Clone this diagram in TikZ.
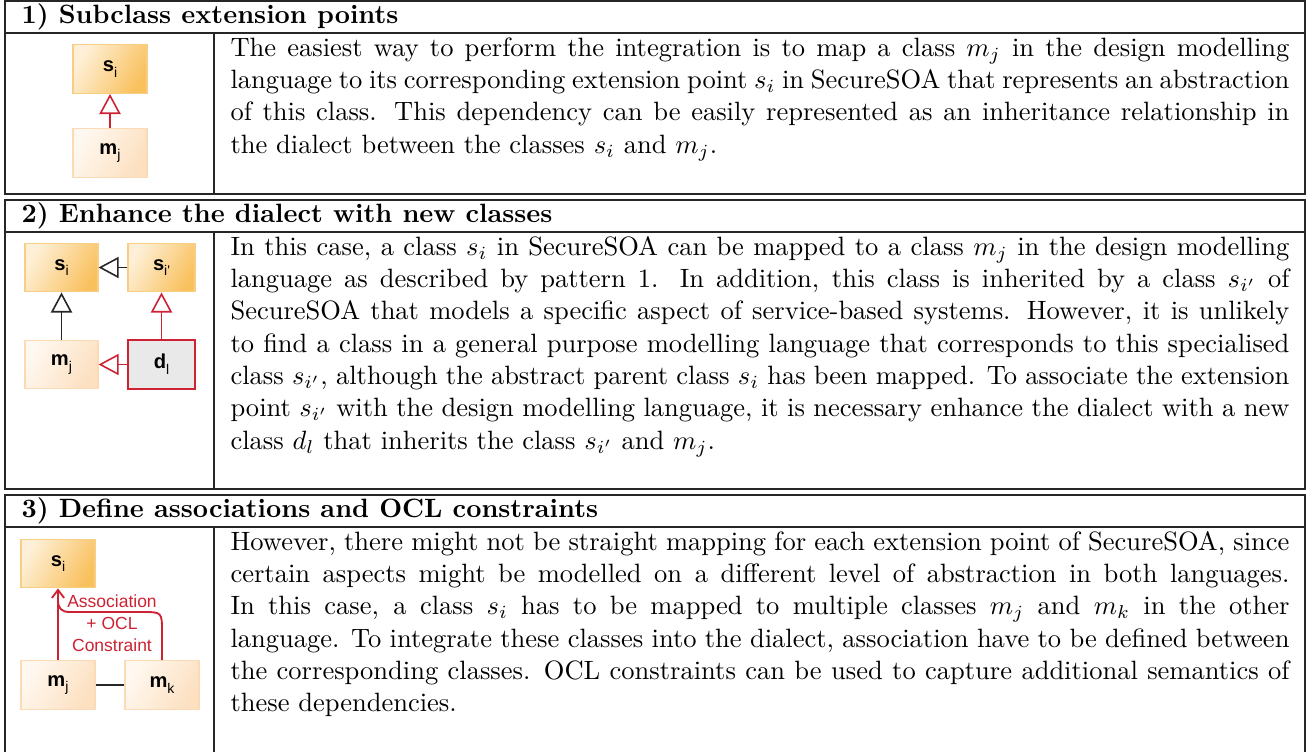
\documentclass[tikz,border=0pt]{standalone}
\usepackage{fontspec}
\newfontfamily\diag{Liberation Sans}
\usetikzlibrary{arrows.meta}
\definecolor{sdark}{HTML}{F9C15E}
\definecolor{slight}{HTML}{FEF0D8}
\definecolor{sborder}{HTML}{F8CD84}
\definecolor{mdark}{HTML}{FCE0C0}
\definecolor{mlight}{HTML}{FFF8F0}
\definecolor{mborder}{HTML}{FBDAB5}
\definecolor{ared}{HTML}{CC2233}
\definecolor{dfill}{HTML}{E9E9E9}
\newcommand{\lbl}[2]{#1\raisebox{-0.28em}{\fontsize{5.3}{6}\selectfont\mdseries #2}}
\begin{document}
\begin{tikzpicture}[x=0.37736pt,y=-0.37736pt,
  tbl/.style={line width=0.45pt, draw=black!85},
  hdr/.style={inner sep=0, font=\fontsize{10}{12}\selectfont\bfseries},
  body/.style={inner sep=0, text width=399.6pt, align=justify, font=\fontsize{10}{12.2}\selectfont},
  cls/.style={inner sep=0, minimum height=18.3pt, font=\diag\bfseries\fontsize{7.6}{9}\selectfont},
  sbox/.style={cls, draw=sborder, line width=0.5pt, left color=slight, right color=sdark, shading angle=60},
  mbox/.style={cls, draw=mborder, line width=0.5pt, left color=mlight, right color=mdark, shading angle=60},
  dbox/.style={cls, draw=ared, line width=0.8pt, fill=dfill},
  inh/.style={line width=0.6pt, -{Triangle[open, length=7.6pt, width=8pt]}},
  assoc/.style={line width=0.7pt, draw=ared},
]
\useasboundingbox (0,0) rectangle (1307,752);
% ---- table 1
\draw[tbl] (5,1) rectangle (1305,194);
\draw[tbl] (5,33) -- (1305,33);
\draw[tbl] (214,33) -- (214,194);
\node[hdr, anchor=base west] (h1) at (21,23) {1) Subclass extension points};
\node[body, anchor=north west] (t1) at (230,33) {\strut The easiest way to perform the integration is to map a class $m_j$ in the design modelling\linebreak
language to its corresponding extension point $s_i$ in SecureSOA that represents an abstraction\linebreak
of this class. This dependency can be easily represented as an inheritance relationship in\linebreak
the dialect between the classes $s_i$ and $m_j$.};
\node[sbox, minimum width=27.9pt] (s1) at (110,69) {\lbl{s}{i}};
\node[mbox, minimum width=27.9pt] (m1) at (110,153) {\lbl{m}{j}};
\draw[inh, ared] (m1) -- (s1);
% ---- table 2
\draw[tbl] (5,200) rectangle (1305,489);
\draw[tbl] (5,232) -- (1305,232);
\draw[tbl] (214,232) -- (214,489);
\node[hdr, anchor=base west] (h2) at (21,222) {2) Enhance the dialect with new classes};
\node[body, anchor=north west] (t2) at (230,232) {\strut In this case, a class $s_i$ in SecureSOA can be mapped to a class $m_j$ in the design modelling\linebreak
language as described by pattern 1. In addition, this class is inherited by a class $s_{i'}$ of\linebreak
SecureSOA that models a specific aspect of service-based systems. However, it is unlikely\linebreak
to find a class in a general purpose modelling language that corresponds to this specialised\linebreak
class $s_{i'}$, although the abstract parent class $s_i$ has been mapped. To associate the extension\linebreak
point $s_{i'}$ with the design modelling language, it is necessary enhance the dialect with a new\linebreak
class $d_l$ that inherits the class $s_{i'}$ and $m_j$.};
\node[sbox, minimum width=27.5pt] (s2) at (61.5,267.5) {\lbl{s}{i}};
\node[sbox, minimum width=25.3pt] (sp2) at (161.5,267.5) {\lbl{s}{i'}};
\node[mbox, minimum width=27.5pt] (m2) at (61.5,364.5) {\lbl{m}{j}};
\node[dbox, minimum width=25.3pt] (d2) at (161.5,364.5) {\lbl{d}{l}};
\draw[inh, black!85] (sp2) -- (s2);
\draw[inh, black!85] (m2) -- (s2);
\draw[inh, ared] (d2) -- (sp2);
\draw[inh, ared] (d2) -- (m2);
% ---- table 3
\draw[tbl] (5,752) -- (5,495) -- (1305,495) -- (1305,752);
\draw[tbl] (5,527) -- (1305,527);
\draw[tbl] (214,527) -- (214,752);
\node[hdr, anchor=base west] (h3) at (21,517) {3) Define associations and OCL constraints};
\node[body, anchor=north west] (t3) at (230,527) {\strut However, there might not be straight mapping for each extension point of SecureSOA, since\linebreak
certain aspects might be modelled on a different level of abstraction in both languages.\linebreak
In this case, a class $s_i$ has to be mapped to multiple classes $m_j$ and $m_k$ in the other\linebreak
language. To integrate these classes into the dialect, association have to be defined between\linebreak
the corresponding classes. OCL constraints can be used to capture additional semantics of\linebreak
these dependencies.};
\node[sbox, minimum width=27.9pt] (s3) at (58,563.5) {\lbl{s}{i}};
\node[mbox, minimum width=27.9pt] (m3) at (58,685) {\lbl{m}{j}};
\node[mbox, minimum width=27.9pt] (k3) at (162,685) {\lbl{m}{k}};
\draw[line width=0.6pt, black!85] (m3) -- (k3);
\draw[assoc, -{Straight Barb[length=3pt, width=4.6pt]}] (m3) -- (s3);
\coordinate (j1) at (58,600);
\draw[assoc] (k3.north) -- (162,632) .. controls (162,612) .. (142,612) -- (70,612) .. controls (61,612) and (58,608) .. (j1);
\node[font=\diag\fontsize{6.6}{8.3}\selectfont, text=ared, align=center, inner sep=0] (lab) at (112,623) {Association\\+ OCL\\Constraint};
\end{tikzpicture}
\end{document}
